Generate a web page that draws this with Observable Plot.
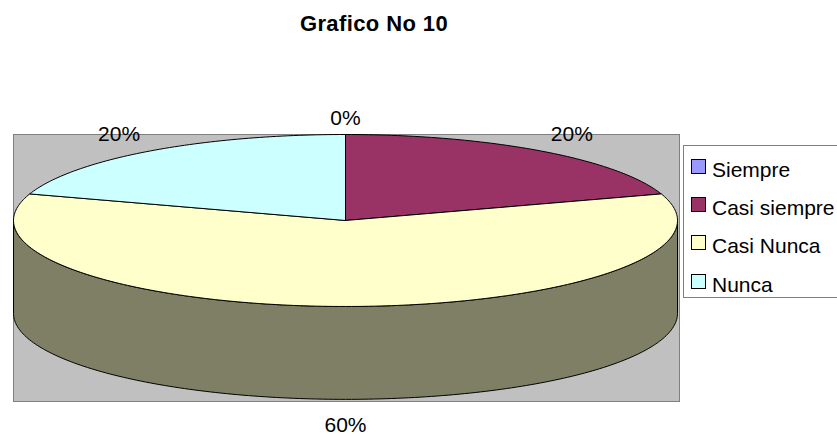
<!DOCTYPE html>
<html>
<head>
<meta charset="utf-8">
<script src="https://cdn.jsdelivr.net/npm/d3@7"></script>
<script src="https://cdn.jsdelivr.net/npm/@observablehq/plot@0.6"></script>
<style>
  html, body { margin: 0; padding: 0; background: #fff; overflow: hidden; }
  body { position: relative; width: 837px; height: 436px; font-family: "Liberation Sans", Arial, sans-serif; color: #000; }
  #title { position: absolute; left: 0; top: 11px; width: 748px; text-align: center; font-size: 22px; font-weight: bold; line-height: 26px; letter-spacing: 0.4px; }
  #legend { position: absolute; left: 683px; top: 145px; width: 160px; height: 153px; box-sizing: border-box; background: #fff; border: 1px solid #808080; }
  .row { position: absolute; left: 7px; height: 24px; line-height: 24px; font-size: 21px; white-space: nowrap; padding-left: 21px; }
  .row i { position: absolute; left: 0; top: 1px; width: 13px; height: 13px; border: 1px solid #000; }
</style>
</head>
<body>
<div id="title">Grafico No 10</div>
<div id="chart"></div>
<div id="legend"></div>
<script>
const categories = ["Siempre", "Casi siempre", "Casi Nunca", "Nunca"];
const shares = [0, 20, 60, 20];
const labels = ["0%", "20%", "60%", "20%"];
const colors = ["#9999FF", "#993366", "#FFFFCC", "#CCFFFF"];
const sideColor = "#7F7F66";

// The pie lives on a unit ellipse; the rim hangs below it by this many y units.
const depth = 1.08;

const point = (deg, drop = 0) => {
  const a = deg * Math.PI / 180;
  return {x: Math.sin(a), y: Math.cos(a) - drop};
};

const total = d3.sum(shares);
let running = 0;
const slices = categories.map((name, i) => {
  const start = running / total * 360;
  running += shares[i];
  return {name, start, end: running / total * 360, label: labels[i]};
});

// Closed outline of a top-face wedge, clockwise from twelve o'clock.
const wedge = (s) => {
  const pts = [{x: 0, y: 0}];
  for (const deg of d3.range(s.start, s.end, 1)) pts.push(point(deg));
  pts.push(point(s.end), {x: 0, y: 0});
  return pts.map((p) => ({...p, name: s.name}));
};

// Visible front wall of the drum, running round the lower half of the ellipse.
const rim = [
  ...d3.range(90, 271, 1).map((deg) => point(deg)),
  ...d3.range(270, 89, -1).map((deg) => point(deg, depth)),
  point(90)
];

// Percent labels sit outside the drum along each slice's mid-angle.
const labelPoints = slices.map((s) => {
  const p = point((s.start + s.end) / 2);
  return {
    text: s.label,
    x: p.x * 1.16,
    y: p.y < 0 ? p.y - depth - 0.306 : p.y + 0.19
  };
});

const chart = Plot.plot({
  width: 837,
  height: 436,
  marginLeft: 13,
  marginRight: 158,
  marginTop: 134,
  marginBottom: 35,
  x: {domain: [-1, 1.006], axis: null},
  y: {domain: [-2.105, 1], axis: null},
  color: {domain: categories, range: colors},
  style: {background: "transparent", overflow: "visible"},
  marks: [
    Plot.frame({fill: "#C0C0C0", stroke: "#808080"}),
    Plot.line(rim, {x: "x", y: "y", fill: sideColor, stroke: "#000", strokeWidth: 1, curve: "linear"}),
    ...slices.map((s) =>
      Plot.line(wedge(s), {x: "x", y: "y", fill: "name", stroke: "#000", strokeWidth: 1, curve: "linear", strokeLinejoin: "round"})
    ),
    Plot.text(labelPoints, {
      x: "x", y: "y", text: "text",
      fontSize: 21, fontFamily: "Liberation Sans, Arial, sans-serif", fill: "#000", stroke: "none"
    })
  ]
});
document.getElementById("chart").appendChild(chart);

const rowTops = [157, 195, 233, 272];
const legend = document.getElementById("legend");
categories.forEach((name, i) => {
  const row = document.createElement("div");
  row.className = "row";
  row.style.top = (rowTops[i] - 145) + "px";
  row.textContent = name;
  const swatch = document.createElement("i");
  swatch.style.background = colors[i];
  row.prepend(swatch);
  legend.appendChild(row);
});
</script>
</body>
</html>
